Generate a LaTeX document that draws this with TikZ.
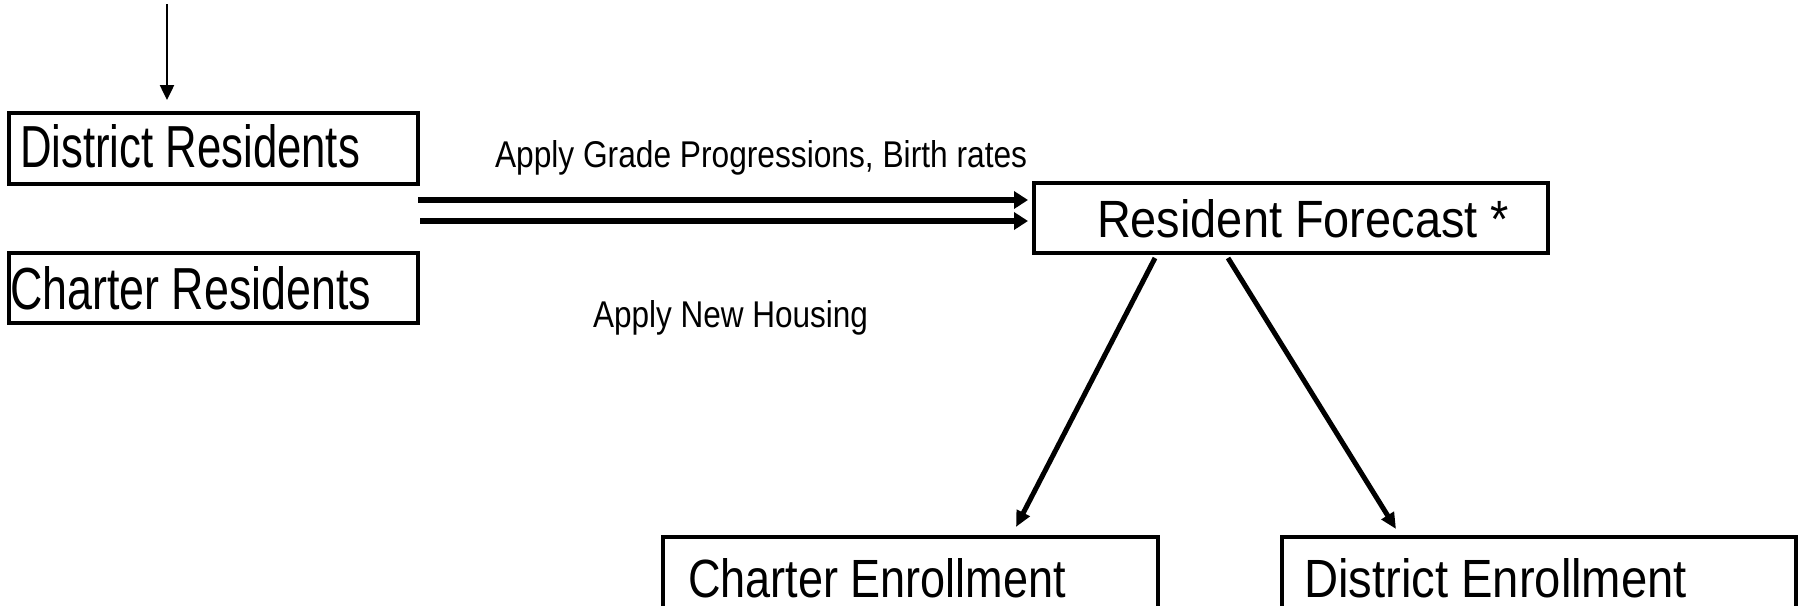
\documentclass[tikz,border=0pt]{standalone}
\usepackage{fontspec}
\setmainfont{Liberation Sans}
\usetikzlibrary{arrows.meta,calc}
\newcommand{\rsz}[3]{\resizebox{#1pt}{#2pt}{#3}}
\tikzset{
  box/.style={draw=black, line width=4pt, inner sep=0pt, outer sep=0pt, anchor=north west},
  lbl/.style={inner sep=0pt, outer sep=0pt, anchor=base west},
  thinarrow/.style={line width=2.5pt, -{Triangle[length=15pt,width=14pt]}},
  flowarrow/.style={line width=6pt, -{Triangle[length=14pt,width=17pt]}},
  diagarrow/.style={line width=5pt, -{Triangle[length=16pt,width=14pt]}},
}
\begin{document}
\begin{tikzpicture}[x=1pt,y=-1pt]
\useasboundingbox (0,0) rectangle (1803,605);
\fill[white] (0,0) rectangle (1803,605);
\clip (0,0) rectangle (1803,605);
% boxes
\node[box, minimum width=409pt, minimum height=71pt] (dres) at (9,113) {};
\node[box, minimum width=409pt, minimum height=70pt] (cres) at (9,253) {};
\node[box, minimum width=514pt, minimum height=70pt] (rf) at (1034,183) {};
\node[box, minimum width=495pt, minimum height=120pt] (cen) at (663,537) {};
\node[box, minimum width=514pt, minimum height=120pt] (den) at (1282,537) {};
% texts
\node[lbl] (dresT) at (20,167) {\rsz{340}{43}{District Residents}};
\node[lbl] (cresT) at (10,309) {\rsz{361}{43}{Charter Residents}};
\node[lbl] (rfT) at (1097,237) {\rsz{412}{38}{Resident Forecast *}};
\node[lbl] (cenT) at (688,597) {\rsz{378}{39}{Charter Enrollment}};
\node[lbl] (denT) at (1304,597) {\rsz{383}{39}{District Enrollment}};
\node[lbl] (grade) at (495,167) {\rsz{532}{27}{Apply Grade Progressions, Birth rates}};
\node[lbl] (housing) at (593,327) {\rsz{275}{27}{Apply New Housing}};
% connectors
\coordinate (topstart) at (167,4);
\draw[thinarrow, shorten >=13pt] (topstart) -- (topstart |- dres.north);
\coordinate (f1) at (418,200);
\coordinate (f2) at (420,221);
\draw[flowarrow, shorten >=6pt] (f1) -- (f1 -| rf.west);
\draw[flowarrow, shorten >=6pt] (f2) -- (f2 -| rf.west);
\coordinate (d1) at (1155,258);
\coordinate (d2) at (1228,258);
\coordinate (e1) at (1016,527);
\coordinate (e2) at (1396,529);
\draw[diagarrow] (d1) -- (e1);
\draw[diagarrow] (d2) -- (e2);
\end{tikzpicture}
\end{document}
